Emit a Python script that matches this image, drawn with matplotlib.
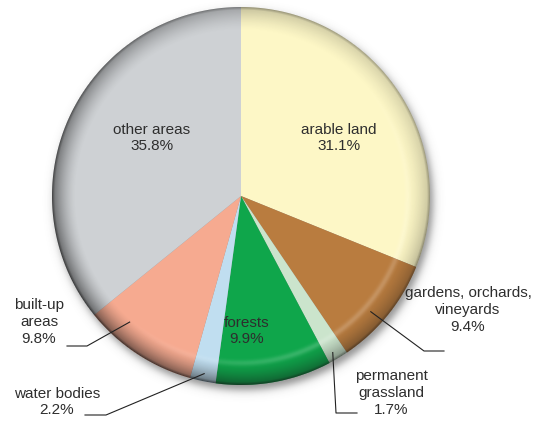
import matplotlib.pyplot as plt
import numpy as np

# land use shares, clockwise from 12 o'clock
labels = ["arable land", "gardens, orchards,\nvineyards", "permanent\ngrassland",
          "forests", "water bodies", "built-up\nareas", "other areas"]
shares = [31.1, 9.4, 1.7, 9.9, 2.2, 9.8, 35.8]
colors = ["#fdf7c6", "#b97c3f", "#cbe4cc", "#0fa64b", "#c0def0", "#f6aa90", "#ced1d4"]

# label placement in pixels (y measured from the top)
label_pos = [(339, 138), (468, 310), (391, 393), (247, 331), (57, 402), (39, 322), (152, 138)]
# leader lines: (fraction along wedge, fraction of radius, elbow, end) or None
leaders = [None,
           (0.42, 0.92, (424, 351), (444, 351)),
           (0.40, 0.96, (336, 413), (357, 413)),
           None,
           (0.50, 0.96, (106, 415), (85, 415)),
           (0.27, 0.89, (87, 346), (67, 346)),
           None]

W, H = 545, 422
cx, cy, R = 241, 196, 189

plt.rcParams['font.family'] = ['Liberation Sans', 'DejaVu Sans']

fig = plt.figure(figsize=(W / 100, H / 100), dpi=100)
ax = fig.add_axes([0, 0, 1, 1])

xx, yy = np.meshgrid(np.arange(W) + 0.5, np.arange(H) + 0.5)

# soft drop shadow
ds = np.hypot(xx - cx - 3, yy - cy - 5)
shadow = np.zeros((H, W, 4))
shadow[..., :3] = 0.28
shadow[..., 3] = 0.6 / (1 + np.exp((ds - R) / 2.5))
ax.imshow(shadow, extent=(0, W, 0, H), zorder=0, interpolation='bilinear')

wedges, _ = ax.pie(shares, colors=colors, startangle=90, counterclock=False,
                   center=(cx, H - cy), radius=R,
                   wedgeprops=dict(linewidth=0, zorder=1))

# bevelled rim
d = np.hypot(xx - cx, yy - cy)
phi = np.arctan2(cy - yy, xx - cx)
side = 0.5 * (1 - np.cos(phi - np.radians(40)))
t = np.clip((d - (R - 24)) / 24, 0, 1)
dark = (0.18 + 0.42 * side) * t ** 1.5 + 0.22 * np.clip((d - (R - 3)) / 3, 0, 1)
inside = np.clip(R - d + 0.5, 0, 1)
rim = np.zeros((H, W, 4))
rim[..., :3] = 0.08
rim[..., 3] = np.clip(dark, 0, 0.8) * inside
ax.imshow(rim, extent=(0, W, 0, H), zorder=2, interpolation='bilinear')

# faint highlight band on the lower right
lr = np.clip(np.cos(phi + np.radians(45)), 0, 1)
hl = np.zeros((H, W, 4))
hl[..., :3] = 1.0
hl[..., 3] = 0.18 * lr * np.exp(-((d - (R - 22)) / 3) ** 2) * inside
ax.imshow(hl, extent=(0, W, 0, H), zorder=2, interpolation='bilinear')

for w, lab, share, pos, ld in zip(wedges, labels, shares, label_pos, leaders):
    ax.text(pos[0], H - pos[1], f"{lab}\n{share}%", ha='center', va='center',
            multialignment='center', fontsize=11, color='#2e2e2e',
            linespacing=1.25, zorder=5)
    if ld is None:
        continue
    frac, rf, elbow, end = ld
    ang = np.radians(w.theta1 + frac * (w.theta2 - w.theta1))
    x0 = cx + rf * R * np.cos(ang)
    y0 = (H - cy) + rf * R * np.sin(ang)
    ax.plot([x0, elbow[0], end[0]], [y0, H - elbow[1], H - end[1]],
            color='#222222', lw=0.8, zorder=4)

ax.set_xlim(0, W)
ax.set_ylim(0, H)
ax.set_aspect('equal')
ax.axis('off')

fig.savefig('out.png', dpi=100)
